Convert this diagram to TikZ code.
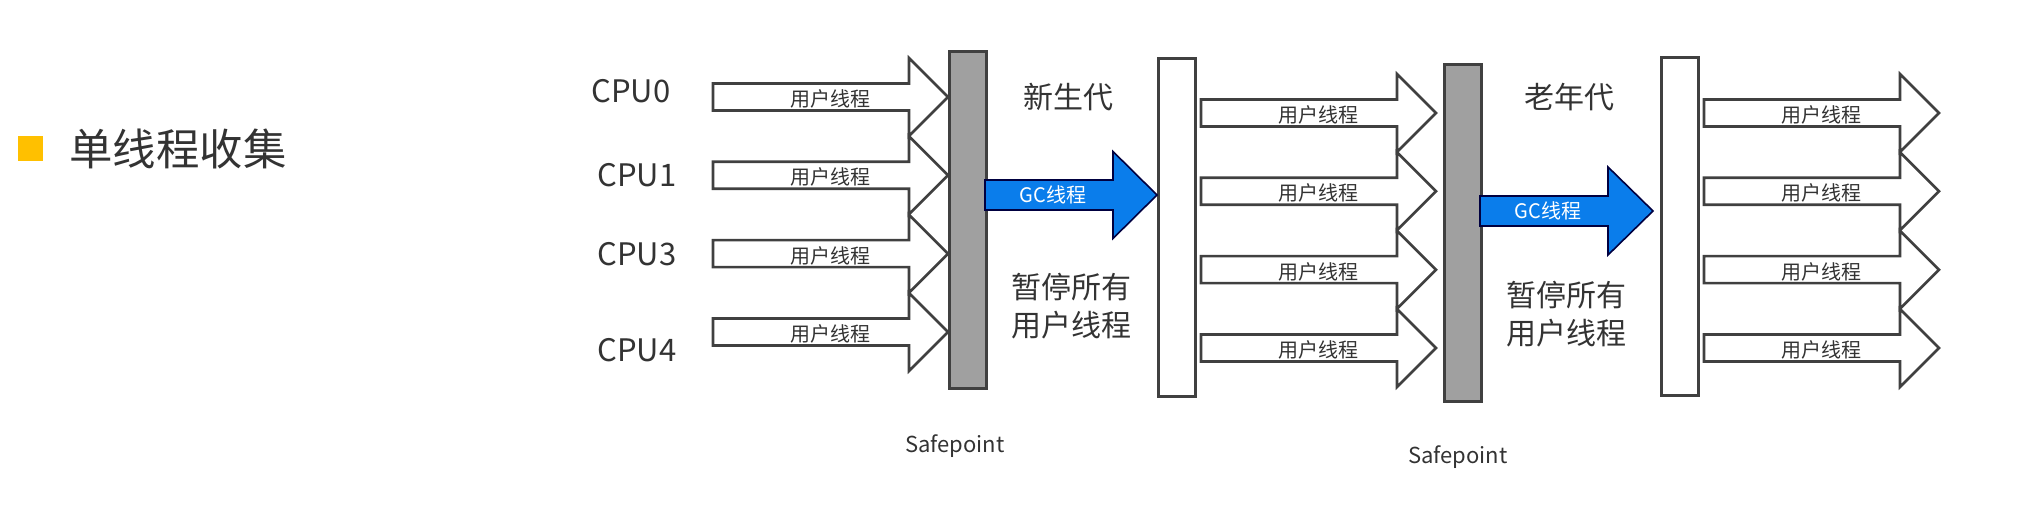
\documentclass[tikz,border=0pt]{standalone}
\usepackage{fontspec}
\setmainfont{Noto Sans CJK SC}
\definecolor{linegray}{HTML}{404040}
\definecolor{bargray}{HTML}{A0A0A0}
\definecolor{gcblue}{HTML}{0A7DEB}
\definecolor{textgray}{HTML}{333333}
\definecolor{markyellow}{HTML}{FFC000}
\tikzset{
  userbody/.style={draw=linegray,line width=1.3pt,fill=white,line join=miter},
  gcbody/.style={draw=black!75!blue,line width=0.8pt,fill=gcblue,line join=miter},
  safebar/.style={draw=linegray,line width=1.3pt,fill=bargray,minimum width=18.5pt,minimum height=168.5pt,inner sep=0pt,anchor=north west},
  genbar/.style={draw=linegray,line width=1.3pt,fill=white,minimum width=18.5pt,minimum height=169pt,inner sep=0pt,anchor=north west},
  threadlabel/.style={text=textgray,font=\fontsize{10}{12}\selectfont,inner sep=0pt},
  cpulabel/.style={text=textgray,font=\fontsize{15.5}{18}\selectfont,inner sep=0pt},
  genlabel/.style={text=textgray,font=\fontsize{15}{19}\selectfont,inner sep=0pt,align=center},
  sptlabel/.style={text=textgray,font=\fontsize{11}{13}\selectfont,inner sep=0pt},
}
\newcommand{\userarrow}[5]{%
  \draw[userbody] (#1,#4-13.5) -- (#2,#4-13.5) -- (#2,#4-39) -- (#3,#4)
    -- (#2,#4+39) -- (#2,#4+13.5) -- (#1,#4+13.5) -- cycle;
  \node[threadlabel] (#5) at ({(#1+#3)/2},#4+2) {用户线程};
}
\newcommand{\gcarrow}[6]{%
  \draw[gcbody] (#1,#4-15) -- (#2,#4-15) -- (#2,#4-#5) -- (#3,#4)
    -- (#2,#4+#5) -- (#2,#4+15) -- (#1,#4+15) -- cycle;
  \node[threadlabel,text=white] (#6) at ({(#1+#2)/2+4},#4) {GC线程};
}
\begin{document}
\begin{tikzpicture}[x=0.5pt,y=-0.5pt]
  \useasboundingbox (0,0) rectangle (2020,528);
  \fill[markyellow] (18,136) rectangle (43,161);
  \node[text=textgray,font=\fontsize{21.7}{26}\selectfont,inner sep=0pt] (title) at (178,149) {单线程收集};

  \node[cpulabel] (cpu0) at (631,91) {CPU0};
  \node[cpulabel] (cpu1) at (637,175) {CPU1};
  \node[cpulabel] (cpu3) at (637,254) {CPU3};
  \node[cpulabel] (cpu4) at (637,350) {CPU4};

  \foreach \yc [count=\i] in {97,175.3,253.7,332}
    \userarrow{713}{909}{948}{\yc}{ua\i};
  \foreach \yc [count=\i] in {113,191.3,269.7,348}
    \userarrow{1201}{1397}{1436}{\yc}{ub\i};
  \foreach \yc [count=\i] in {113,191.3,269.7,348}
    \userarrow{1704}{1900}{1939}{\yc}{uc\i};

  \node[safebar] (sp1) at (948,50) {};
  \node[safebar] (sp2) at (1443,63) {};
  \node[genbar] (young) at (1157,57) {};
  \node[genbar] (old) at (1660,56) {};

  \gcarrow{985}{1113}{1157}{195}{43.5}{gc1}
  \gcarrow{1480}{1608}{1653}{211}{44}{gc2}

  \node[genlabel] (newgen) at (1068,97) {新生代};
  \node[genlabel] (oldgen) at (1569,97) {老年代};
  \node[genlabel] (pause1) at (1071,306) {暂停所有\\用户线程};
  \node[genlabel] (pause2) at (1566,314) {暂停所有\\用户线程};

  \node[sptlabel] (spt1) at (955,446) {Safepoint};
  \node[sptlabel] (spt2) at (1458,457) {Safepoint};
\end{tikzpicture}
\end{document}
